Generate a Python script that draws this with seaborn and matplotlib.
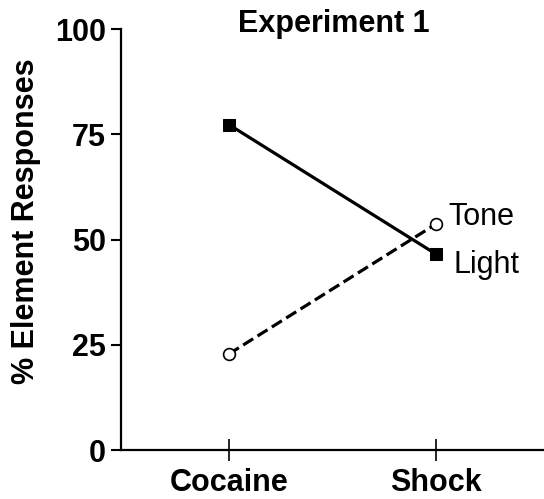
import matplotlib
matplotlib.use("Agg")
import matplotlib.pyplot as plt
import seaborn as sns
import pandas as pd

categories = ["Cocaine", "Shock"]
light = [77.3, 46.5]
tone = [22.8, 53.7]
series_names = ["Light", "Tone"]
y_ticks = [0, 25, 50, 75, 100]

sns.set_style("ticks")
plt.rcParams['font.family'] = ['Liberation Sans', 'DejaVu Sans']
plt.rcParams['text.color'] = 'black'
plt.rcParams['axes.labelcolor'] = 'black'
plt.rcParams['xtick.color'] = 'black'
plt.rcParams['ytick.color'] = 'black'
plt.rcParams['axes.edgecolor'] = 'black'

W, H = 544, 499
fig = plt.figure(figsize=(W / 100, H / 100), dpi=100)
ax = fig.add_axes([121 / W, (H - 450) / H, (544 - 121) / W, (450 - 29) / H])

df_light = pd.DataFrame({"cond": categories, "val": light})
df_tone = pd.DataFrame({"cond": categories, "val": tone})

sns.lineplot(data=df_light, x="cond", y="val", ax=ax, color="black",
             linewidth=2.3, marker="s", markersize=8.5,
             markerfacecolor="black", markeredgecolor="black", clip_on=False)
sns.lineplot(data=df_tone, x="cond", y="val", ax=ax, color="black",
             linewidth=2.3, linestyle="--", marker="o", markersize=8.5,
             markerfacecolor="white", markeredgecolor="black",
             markeredgewidth=1.2, clip_on=False)

ax.set_xlim(-0.52, 1.52)
ax.set_ylim(0, 100)
ax.set_yticks(y_ticks)
ax.set_yticklabels([str(t) for t in y_ticks], fontweight="bold", fontsize=22)
ax.set_xticks([0, 1])
ax.set_xticklabels(categories, fontweight="bold", fontsize=22)
ax.set_xlabel("")
ax.set_ylabel("")

for s in ["top", "right"]:
    ax.spines[s].set_visible(False)
for s in ["left", "bottom"]:
    ax.spines[s].set_linewidth(1.6)
    ax.spines[s].set_color("black")

ax.tick_params(axis="y", direction="out", length=7, width=1.5, pad=4, colors="black")
ax.tick_params(axis="x", direction="inout", length=16, width=1.2, pad=5, colors="black")

ax.text(1.058, 53.4, series_names[1], fontsize=22, ha="left", va="baseline", color="black")
ax.text(1.082, 42.0, series_names[0], fontsize=22, ha="left", va="baseline", color="black")

fig.text(334 / W, (H - 32) / H, "Experiment 1", fontsize=22, fontweight="bold",
         ha="center", va="baseline", color="black")
fig.text(26 / W, (H - 221) / H, "% Element Responses", fontsize=22,
         fontweight="bold", rotation=90, ha="center", va="center", color="black")

fig.savefig("out.png", dpi=100)
